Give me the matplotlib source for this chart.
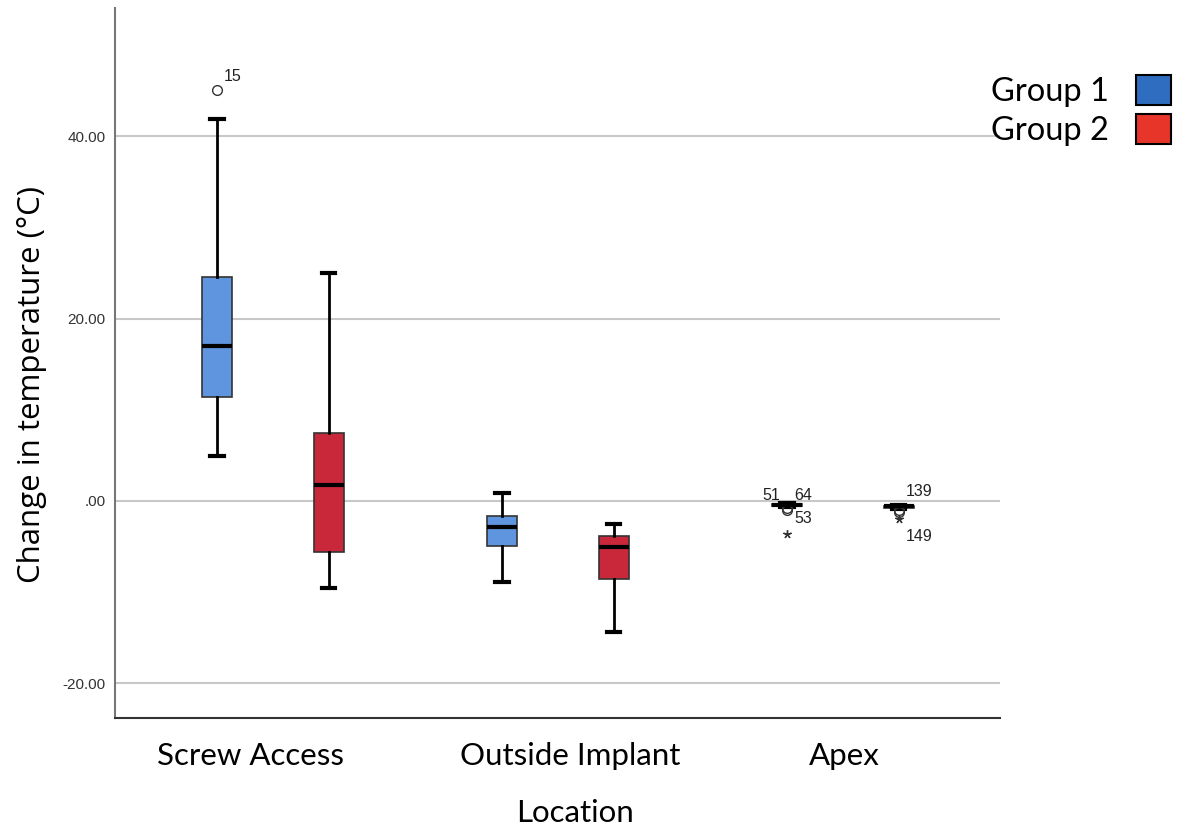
import matplotlib
matplotlib.use("Agg")
import matplotlib.pyplot as plt
from matplotlib.patches import Patch

# Boxplot summaries (deg C)
locations = ["Screw Access", "Outside Implant", "Apex"]
groups = ["Group 1", "Group 2"]

g1_whislo = [4.9, -8.9, -0.7]
g1_q1 = [11.4, -4.9, -0.6]
g1_med = [17.0, -2.9, -0.4]
g1_q3 = [24.6, -1.6, -0.3]
g1_whishi = [41.9, 0.9, -0.2]

g2_whislo = [-9.5, -14.4, -0.9]
g2_q1 = [-5.6, -8.6, -0.8]
g2_med = [1.8, -5.0, -0.6]
g2_q3 = [7.5, -3.8, -0.5]
g2_whishi = [25.0, -2.5, -0.4]

# outliers (circle) and extremes (star): (location index, group index, value)
outliers = [(0, 0, 45.0), (2, 0, -0.8), (2, 0, -1.0), (2, 1, -1.0), (2, 1, -1.2)]
extremes = [(2, 0, -3.6), (2, 1, -2.0)]
# case labels: (location index, group index, y of label, text, side)
case_labels = [(0, 0, 46.5, "15", "r"), (2, 0, 0.6, "51", "l"), (2, 0, 0.6, "64", "r"),
               (2, 0, -1.9, "53", "r"), (2, 1, 1.0, "139", "r"), (2, 1, -3.9, "149", "r")]

yticks = [-20, 0, 20, 40]
ytick_labels = ["-20.00", ".00", "20.00", "40.00"]

box_colors = ["#5F94DE", "#C9283B"]
legend_colors = ["#2E6DBF", "#E8352A"]
offset = 0.196
width = 0.105
# the category labels sit slightly off the pair centres in the original
label_shift = [-0.077, 0.042, 0.007]

fig = plt.figure(figsize=(11.86, 8.34), dpi=100)
ax = fig.add_axes([0.097, 0.139, 0.746, 0.851])

for gi, (lo, q1, med, q3, hi) in enumerate([
        (g1_whislo, g1_q1, g1_med, g1_q3, g1_whishi),
        (g2_whislo, g2_q1, g2_med, g2_q3, g2_whishi)]):
    stats = []
    for i in range(len(locations)):
        fl = [v for (li, g, v) in outliers if li == i and g == gi]
        stats.append(dict(whislo=lo[i], q1=q1[i], med=med[i], q3=q3[i], whishi=hi[i], fliers=fl))
    pos = [i + 1 + (offset if gi else -offset) for i in range(len(locations))]
    ax.bxp(stats, positions=pos, widths=width, capwidths=width * 0.45, patch_artist=True,
           boxprops=dict(facecolor=box_colors[gi], edgecolor="#333333", linewidth=1.2),
           medianprops=dict(color="black", linewidth=3),
           whiskerprops=dict(color="black", linewidth=2),
           capprops=dict(color="black", linewidth=3),
           flierprops=dict(marker="o", markerfacecolor="none", markeredgecolor="#333333",
                           markersize=7, linestyle="none"),
           zorder=3)

for li, gi, v in extremes:
    x = li + 1 + (offset if gi else -offset)
    ax.plot(x, v, marker=(5, 2, 0), color="#333333", markersize=6, zorder=4)

for li, gi, v, t, side in case_labels:
    x = li + 1 + (offset if gi else -offset)
    if side == "r":
        ax.text(x + 0.025, v, t, fontsize=11.5, ha="left", va="center",
                family="Liberation Sans", color="#222222", zorder=5)
    else:
        ax.text(x - 0.025, v, t, fontsize=11.5, ha="right", va="center",
                family="Liberation Sans", color="#222222", zorder=5)

ax.set_xlim(0.446, 3.551)
ax.set_ylim(-23.8, 54)
ax.set_yticks(yticks)
ax.set_yticklabels(ytick_labels, family="Liberation Sans", fontsize=11, color="#333333")
ax.set_xticks([i + 1 + s for i, s in enumerate(label_shift)])
ax.set_xticklabels(locations, family="Lato", fontsize=22.5)
ax.tick_params(length=0)
ax.tick_params(axis="y", pad=7)
ax.tick_params(axis="x", pad=17)
ax.grid(axis="y", color="#C8C8C8", linewidth=1.5)
ax.set_axisbelow(True)
for s in ["top", "right"]:
    ax.spines[s].set_visible(False)
ax.spines["left"].set_color("#777777")
ax.spines["left"].set_linewidth(1.5)
ax.spines["bottom"].set_color("#333333")
ax.spines["bottom"].set_linewidth(1.5)

ax.set_xlabel("Location", family="Lato", fontsize=22.5, labelpad=21, x=0.52)
ax.set_ylabel("Change in temperature (°C)", family="Open Sans", fontsize=22.5)
ax.yaxis.set_label_coords(-0.077, 0.47)

handles = [Patch(facecolor=c, edgecolor="black", linewidth=1.5) for c in legend_colors]
fig.legend(handles, groups, loc="upper right", bbox_to_anchor=(0.998, 0.926), frameon=False,
           markerfirst=False, prop=dict(family="Lato", size=23.5), handlelength=1.05,
           handleheight=1.05, labelspacing=0.2, handletextpad=0.85, borderaxespad=0)

fig.savefig("out.png", dpi=100, facecolor="white")
